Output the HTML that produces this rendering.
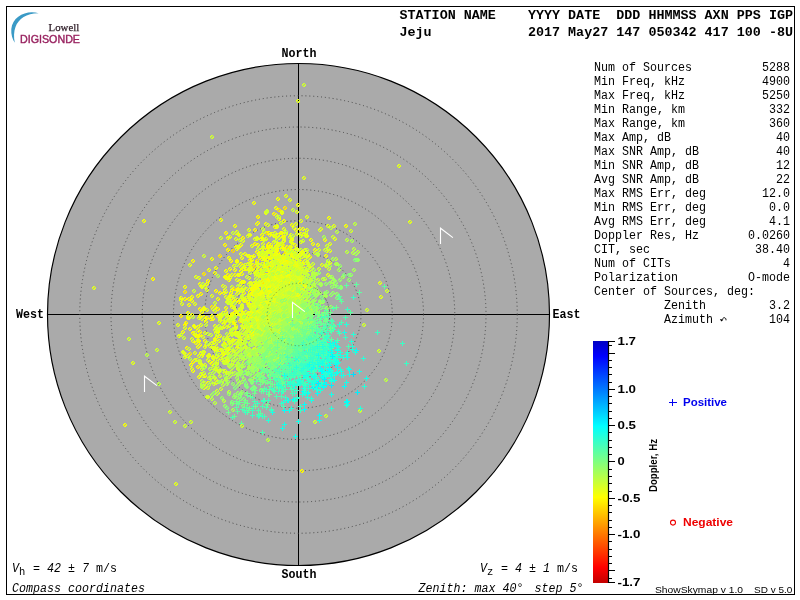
<!DOCTYPE html>
<html><head><meta charset="utf-8"><title>Skymap</title>
<style>
html,body{margin:0;padding:0;background:#fff;}
body{width:800px;height:600px;overflow:hidden;font-family:"Liberation Sans",sans-serif;}
svg{display:block;will-change:transform;}
text{fill:#000;}
.mr{font-family:"Liberation Mono",monospace;}
.mb{font-family:"Liberation Mono",monospace;font-weight:bold;}
.mi{font-family:"Liberation Mono",monospace;font-style:italic;}
.sb{font-family:"Liberation Sans",sans-serif;font-weight:bold;}
.sr{font-family:"Liberation Sans",sans-serif;}
.m{fill:none;stroke:none;}
</style></head><body>
<svg width="800" height="600" viewBox="0 0 800 600">
<defs>
<linearGradient id="cb" x1="0" y1="0" x2="0" y2="1"><stop offset="0.0000" stop-color="#0000c3"/><stop offset="0.0621" stop-color="#0000ff"/><stop offset="0.3520" stop-color="#00ffff"/><stop offset="0.6460" stop-color="#ffff00"/><stop offset="0.9358" stop-color="#ff0000"/><stop offset="1.0000" stop-color="#c30000"/></linearGradient>
<marker id="o0" markerWidth="6" markerHeight="6" refX="3" refY="3" markerUnits="userSpaceOnUse"><g fill="#ff9c00" shape-rendering="crispEdges"><path d="M2 1h2v1h-2zM1 2h2v1h-2zM4 2h1v1h-1zM1 3h1v1h-1zM3 3h2v1h-2zM2 4h2v1h-2z"/></g></marker><marker id="o1" markerWidth="6" markerHeight="6" refX="3" refY="3" markerUnits="userSpaceOnUse"><g fill="#ffaf00" shape-rendering="crispEdges"><path d="M2 1h2v1h-2zM1 2h2v1h-2zM4 2h1v1h-1zM1 3h1v1h-1zM3 3h2v1h-2zM2 4h2v1h-2z"/></g></marker><marker id="o2" markerWidth="6" markerHeight="6" refX="3" refY="3" markerUnits="userSpaceOnUse"><g fill="#ffc100" shape-rendering="crispEdges"><path d="M2 1h2v1h-2zM1 2h2v1h-2zM4 2h1v1h-1zM1 3h1v1h-1zM3 3h2v1h-2zM2 4h2v1h-2z"/></g></marker><marker id="o3" markerWidth="6" markerHeight="6" refX="3" refY="3" markerUnits="userSpaceOnUse"><g fill="#ffd400" shape-rendering="crispEdges"><path d="M2 1h2v1h-2zM1 2h2v1h-2zM4 2h1v1h-1zM1 3h1v1h-1zM3 3h2v1h-2zM2 4h2v1h-2z"/></g></marker><marker id="o4" markerWidth="6" markerHeight="6" refX="3" refY="3" markerUnits="userSpaceOnUse"><g fill="#ffe700" shape-rendering="crispEdges"><path d="M2 1h2v1h-2zM1 2h2v1h-2zM4 2h1v1h-1zM1 3h1v1h-1zM3 3h2v1h-2zM2 4h2v1h-2z"/></g></marker><marker id="o5" markerWidth="6" markerHeight="6" refX="3" refY="3" markerUnits="userSpaceOnUse"><g fill="#fffa00" shape-rendering="crispEdges"><path d="M2 1h2v1h-2zM1 2h2v1h-2zM4 2h1v1h-1zM1 3h1v1h-1zM3 3h2v1h-2zM2 4h2v1h-2z"/></g></marker><marker id="o6" markerWidth="6" markerHeight="6" refX="3" refY="3" markerUnits="userSpaceOnUse"><g fill="#f2ff0d" shape-rendering="crispEdges"><path d="M2 1h2v1h-2zM1 2h2v1h-2zM4 2h1v1h-1zM1 3h1v1h-1zM3 3h2v1h-2zM2 4h2v1h-2z"/></g></marker><marker id="o7" markerWidth="6" markerHeight="6" refX="3" refY="3" markerUnits="userSpaceOnUse"><g fill="#e0ff1f" shape-rendering="crispEdges"><path d="M2 1h2v1h-2zM1 2h2v1h-2zM4 2h1v1h-1zM1 3h1v1h-1zM3 3h2v1h-2zM2 4h2v1h-2z"/></g></marker><marker id="o8" markerWidth="6" markerHeight="6" refX="3" refY="3" markerUnits="userSpaceOnUse"><g fill="#cdff32" shape-rendering="crispEdges"><path d="M2 1h2v1h-2zM1 2h2v1h-2zM4 2h1v1h-1zM1 3h1v1h-1zM3 3h2v1h-2zM2 4h2v1h-2z"/></g></marker><marker id="o9" markerWidth="6" markerHeight="6" refX="3" refY="3" markerUnits="userSpaceOnUse"><g fill="#bbff44" shape-rendering="crispEdges"><path d="M2 1h2v1h-2zM1 2h2v1h-2zM4 2h1v1h-1zM1 3h1v1h-1zM3 3h2v1h-2zM2 4h2v1h-2z"/></g></marker><marker id="o10" markerWidth="6" markerHeight="6" refX="3" refY="3" markerUnits="userSpaceOnUse"><g fill="#a8ff57" shape-rendering="crispEdges"><path d="M2 1h2v1h-2zM1 2h2v1h-2zM4 2h1v1h-1zM1 3h1v1h-1zM3 3h2v1h-2zM2 4h2v1h-2z"/></g></marker><marker id="o11" markerWidth="6" markerHeight="6" refX="3" refY="3" markerUnits="userSpaceOnUse"><g fill="#96ff69" shape-rendering="crispEdges"><path d="M2 1h2v1h-2zM1 2h2v1h-2zM4 2h1v1h-1zM1 3h1v1h-1zM3 3h2v1h-2zM2 4h2v1h-2z"/></g></marker><marker id="o12" markerWidth="6" markerHeight="6" refX="3" refY="3" markerUnits="userSpaceOnUse"><g fill="#83ff7c" shape-rendering="crispEdges"><path d="M2 1h2v1h-2zM1 2h2v1h-2zM4 2h1v1h-1zM1 3h1v1h-1zM3 3h2v1h-2zM2 4h2v1h-2z"/></g></marker><marker id="p13" markerWidth="6" markerHeight="6" refX="2.5" refY="2.5" markerUnits="userSpaceOnUse"><path d="M0.5 3H5.5M3 0.5V5.5" stroke="#71ff8e" stroke-width="1" fill="none"/></marker><marker id="p14" markerWidth="6" markerHeight="6" refX="2.5" refY="2.5" markerUnits="userSpaceOnUse"><path d="M0.5 3H5.5M3 0.5V5.5" stroke="#5effa1" stroke-width="1" fill="none"/></marker><marker id="p15" markerWidth="6" markerHeight="6" refX="2.5" refY="2.5" markerUnits="userSpaceOnUse"><path d="M0.5 3H5.5M3 0.5V5.5" stroke="#4cffb3" stroke-width="1" fill="none"/></marker><marker id="p16" markerWidth="6" markerHeight="6" refX="2.5" refY="2.5" markerUnits="userSpaceOnUse"><path d="M0.5 3H5.5M3 0.5V5.5" stroke="#3affc5" stroke-width="1" fill="none"/></marker><marker id="p17" markerWidth="6" markerHeight="6" refX="2.5" refY="2.5" markerUnits="userSpaceOnUse"><path d="M0.5 3H5.5M3 0.5V5.5" stroke="#27ffd8" stroke-width="1" fill="none"/></marker><marker id="p18" markerWidth="6" markerHeight="6" refX="2.5" refY="2.5" markerUnits="userSpaceOnUse"><path d="M0.5 3H5.5M3 0.5V5.5" stroke="#15ffea" stroke-width="1" fill="none"/></marker><marker id="p19" markerWidth="6" markerHeight="6" refX="2.5" refY="2.5" markerUnits="userSpaceOnUse"><path d="M0.5 3H5.5M3 0.5V5.5" stroke="#02fffd" stroke-width="1" fill="none"/></marker><marker id="p20" markerWidth="6" markerHeight="6" refX="2.5" refY="2.5" markerUnits="userSpaceOnUse"><path d="M0.5 3H5.5M3 0.5V5.5" stroke="#00efff" stroke-width="1" fill="none"/></marker><marker id="p21" markerWidth="6" markerHeight="6" refX="2.5" refY="2.5" markerUnits="userSpaceOnUse"><path d="M0.5 3H5.5M3 0.5V5.5" stroke="#00dcff" stroke-width="1" fill="none"/></marker><marker id="p22" markerWidth="6" markerHeight="6" refX="2.5" refY="2.5" markerUnits="userSpaceOnUse"><path d="M0.5 3H5.5M3 0.5V5.5" stroke="#00c9ff" stroke-width="1" fill="none"/></marker><marker id="p23" markerWidth="6" markerHeight="6" refX="2.5" refY="2.5" markerUnits="userSpaceOnUse"><path d="M0.5 3H5.5M3 0.5V5.5" stroke="#00b6ff" stroke-width="1" fill="none"/></marker>
</defs>
<rect x="0" y="0" width="800" height="600" fill="#fff"/>
<rect x="6.5" y="6.5" width="788" height="588" fill="none" stroke="#000" stroke-width="1"/>
<!-- logo -->
<path d="M38.7 13.2 C27 9.5 12.5 16 11.3 29 C10.9 34.5 12.5 39.5 14.8 42.8 C13.6 37 13.8 31.5 15.5 27 C18.5 18.5 27 13 38.7 13.2Z" fill="#3a9ac6"/>
<text x="48.6" y="30.6" font-family="Liberation Serif, serif" font-size="10.8" textLength="30.6" lengthAdjust="spacingAndGlyphs" style="fill:#33222c;stroke:#33222c;stroke-width:0.25">Lowell</text>
<text x="20" y="42.8" class="sr" font-size="10.6" textLength="60" lengthAdjust="spacingAndGlyphs" style="fill:#98215f;stroke:#98215f;stroke-width:0.4">DIGISONDE</text>
<!-- header -->
<text x="399.5" y="19.0" class="mb" font-size="13.3" textLength="56.2" lengthAdjust="spacingAndGlyphs" xml:space="preserve">STATION</text>
<text x="463.7" y="19.0" class="mb" font-size="13.3" textLength="32.1" lengthAdjust="spacingAndGlyphs" xml:space="preserve">NAME</text>
<text x="528.0" y="19.0" class="mb" font-size="13.3" textLength="32.1" lengthAdjust="spacingAndGlyphs" xml:space="preserve">YYYY</text>
<text x="568.1" y="19.0" class="mb" font-size="13.3" textLength="32.1" lengthAdjust="spacingAndGlyphs" xml:space="preserve">DATE</text>
<text x="616.3" y="19.0" class="mb" font-size="13.3" textLength="24.1" lengthAdjust="spacingAndGlyphs" xml:space="preserve">DDD</text>
<text x="648.4" y="19.0" class="mb" font-size="13.3" textLength="48.2" lengthAdjust="spacingAndGlyphs" xml:space="preserve">HHMMSS</text>
<text x="704.6" y="19.0" class="mb" font-size="13.3" textLength="24.1" lengthAdjust="spacingAndGlyphs" xml:space="preserve">AXN</text>
<text x="736.8" y="19.0" class="mb" font-size="13.3" textLength="24.1" lengthAdjust="spacingAndGlyphs" xml:space="preserve">PPS</text>
<text x="768.9" y="19.0" class="mb" font-size="13.3" textLength="24.1" lengthAdjust="spacingAndGlyphs" xml:space="preserve">IGP</text>
<text x="399.5" y="35.5" class="mb" font-size="13.3" textLength="32.1" lengthAdjust="spacingAndGlyphs" xml:space="preserve">Jeju</text>
<text x="528.0" y="35.5" class="mb" font-size="13.3" textLength="32.1" lengthAdjust="spacingAndGlyphs" xml:space="preserve">2017</text>
<text x="568.1" y="35.5" class="mb" font-size="13.3" textLength="40.1" lengthAdjust="spacingAndGlyphs" xml:space="preserve">May27</text>
<text x="616.3" y="35.5" class="mb" font-size="13.3" textLength="24.1" lengthAdjust="spacingAndGlyphs" xml:space="preserve">147</text>
<text x="648.4" y="35.5" class="mb" font-size="13.3" textLength="48.2" lengthAdjust="spacingAndGlyphs" xml:space="preserve">050342</text>
<text x="704.6" y="35.5" class="mb" font-size="13.3" textLength="24.1" lengthAdjust="spacingAndGlyphs" xml:space="preserve">417</text>
<text x="736.8" y="35.5" class="mb" font-size="13.3" textLength="24.1" lengthAdjust="spacingAndGlyphs" xml:space="preserve">100</text>
<text x="768.9" y="35.5" class="mb" font-size="13.3" textLength="24.1" lengthAdjust="spacingAndGlyphs" xml:space="preserve">-8U</text>
<!-- sky disc -->
<circle cx="298.5" cy="314.5" r="251.0" fill="#aaaaaa" stroke="#000" stroke-width="1.15"/>
<path d="M298.5 63.5V565.5M47.5 314.5H549.5" stroke="#000" stroke-width="1" fill="none"/>
<g fill="none" stroke="#484848" stroke-width="1" stroke-dasharray="1 2.9"><circle cx="298.5" cy="314.5" r="31.25"/><circle cx="298.5" cy="314.5" r="62.50"/><circle cx="298.5" cy="314.5" r="93.75"/><circle cx="298.5" cy="314.5" r="125.00"/><circle cx="298.5" cy="314.5" r="156.25"/><circle cx="298.5" cy="314.5" r="187.50"/><circle cx="298.5" cy="314.5" r="218.75"/></g>
<g>
<polyline class="m" points="191,316 250,265" marker-start="url(#o3)" marker-mid="url(#o3)" marker-end="url(#o3)"/>
<polyline class="m" points="279,210 285,208 279,244 204,274 296,255 212,307 258,273" marker-start="url(#o4)" marker-mid="url(#o4)" marker-end="url(#o4)"/>
<polyline class="m" points="220,350 268,270 237,262 278,276 307,255 258,270 269,268 298,253 260,253 255,244 269,244 258,223 290,247 273,267 189,299 279,219 277,247 284,261 257,252 294,255 238,234 281,233 276,273 231,261 272,270 287,251 201,294 287,257 280,273 200,335 258,217 193,362 216,291 262,321" marker-start="url(#o5)" marker-mid="url(#o5)" marker-end="url(#o5)"/>
<polyline class="m" points="236,341 262,307 285,292 261,298 198,327 272,295 232,318 294,278 272,256 227,350 290,260 242,258 269,301 298,205 235,270 325,240 242,307 276,282 267,308 248,322 277,250 276,300 284,276 221,356 266,213 270,270 278,269 289,256 287,265 265,266 231,296 287,247 283,263 270,247 249,323 225,277 196,343 271,302 264,316 271,269 229,258 199,336 244,269 286,258 286,260 237,300 243,327 257,305 277,273 291,262 236,233 194,326 185,287 269,258 329,218 264,321 200,363 264,333 270,310 268,266 262,269 199,318 206,322 275,285 274,287 283,283 251,264 266,285 279,285 233,320 242,274 252,325 188,318 220,336 210,362 300,255 254,293 271,297 284,294 267,270 254,256 238,342 269,233 240,281 277,276 276,208 296,266 195,327 244,293 255,311 237,261 226,312 226,292 289,262 304,234 273,294 270,235 293,276 224,346 291,242 278,283 193,341 318,245 275,251 268,283 258,320 284,221 298,278 241,316 212,259 284,260 273,287 279,293 243,319 285,267 202,312 288,267 261,312 275,227 264,301" marker-start="url(#o6)" marker-mid="url(#o6)" marker-end="url(#o6)"/>
<polyline class="m" points="236,333 284,273 241,319 234,331 266,302 297,303 260,283 289,311 285,281 293,281 282,278 273,275 283,313 262,303 246,327 218,359 272,274 271,277 290,291 256,289 257,331 301,242 201,364 274,311 94,288 278,300 263,332 182,304 283,294 307,217 212,343 192,339 276,282 211,319 269,308 297,269 235,328 279,261 295,269 257,303 271,303 212,296 270,308 240,315 293,289 234,351 287,268 282,245 254,292 233,319 267,303 192,369 244,267 267,293 298,287 236,333 282,283 292,269 282,249 296,276 293,290 327,251 297,258 258,303 279,238 278,295 271,292 288,283 259,282 303,271 284,264 291,268 264,313 263,244 226,297 276,272 270,250 272,275 282,292 281,279 280,284 259,324 288,302 265,291 274,250 265,307 283,294 266,321 238,334 236,239 272,297 287,297 183,352 312,268 213,348 256,304 202,365 247,318 278,267 285,262 278,279 307,275 242,320 287,257 196,336 254,305 266,254 245,301 281,280 272,277 274,283 301,221 245,323 290,253 292,239 281,305 265,263 301,287 202,369 320,230 286,293 285,284 242,297 209,356 262,311 275,261 252,312 268,285 282,284 257,281 275,274 240,300 254,302 196,277 239,235 284,258 267,281 293,262 272,305 283,265 244,334 282,266 250,325 267,260 288,288 321,229 231,317 216,383 280,260 256,304 297,287 275,313 222,360 269,328 248,323 232,275 285,269 246,320 291,286 262,284 243,241 262,297 268,292 305,250 202,356 217,351 234,334 279,281 250,289 299,292 287,271 232,301 234,308 289,291 272,288 283,295 300,271 255,313 207,290 289,266 231,304 274,298 284,237 295,279 204,388 257,239 281,244 199,318 277,273 281,305 270,246 288,250 301,302 290,261 278,277 224,351 247,289 286,300 267,332 290,262 276,273 275,281 216,352 214,343 270,284 282,287 278,308 263,286 272,281 269,252 264,283" marker-start="url(#o7)" marker-mid="url(#o7)" marker-end="url(#o7)"/>
<polyline class="m" points="318,280 218,371 271,303 223,358 220,371 297,310 286,269 290,282 259,302 232,348 299,298 309,265 290,301 258,339 289,298 248,362 260,302 286,296 287,272 269,331 267,289 211,335 262,284 246,334 185,426 270,326 247,277 259,339 288,253 290,315 291,285 285,274 255,323 294,276 243,290 294,310 301,285 270,278 222,383 208,388 232,287 254,304 296,278 284,285 267,309 240,356 275,272 308,259 292,251 270,318 236,355 259,306 294,267 289,253 266,276 275,309 301,279 287,275 248,236 262,330 278,321 273,310 256,298 287,299 258,249 246,347 224,360 252,335 296,273 262,291 258,316 281,303 282,318 285,301 220,321 279,323 262,305 259,272 283,291 279,318 300,280 280,283 285,277 256,324 282,306 225,320 268,327 280,262 284,239 253,310 279,293 250,264 301,255 266,295 297,279 205,383 294,260 292,267 279,280 214,384 299,270 266,308 319,269 306,233 213,368 278,305 181,335 277,287 306,287 256,327 201,286 266,256 266,336 300,279 225,373 294,284 275,294 327,246 299,295 276,246 281,318 228,359 201,367 290,280 282,283 280,300 360,411 258,308 269,315 266,318 286,301 367,310 297,280 279,270 285,285 245,341 295,282 289,310 296,297 279,321 240,334 281,257 289,259 289,305 261,329 291,306 379,351 276,297 253,334 285,305 284,314 274,310 328,263 294,262 296,289 302,299 268,333 229,352 200,361 255,312 280,281 257,337 315,422 258,328 263,301 264,240 188,316 240,240 282,279 298,304 242,305 273,285 270,278 387,291 277,297 232,368 256,325 289,306 219,355 301,282 248,317 282,314 313,264 285,298 333,237 266,318 300,292 289,288 291,277 184,338 269,307 308,263 257,338 288,290 280,305 288,269 272,298 271,253 280,316 170,412 287,306 276,281 285,306" marker-start="url(#o8)" marker-mid="url(#o8)" marker-end="url(#o8)"/>
<polyline class="m" points="291,280 287,272 255,317 292,293 278,321 285,312 294,310 285,306 273,307 302,297 227,334 210,374 285,311 255,329 294,317 292,294 265,328 243,364 272,338 286,294 269,323 291,291 293,320 265,323 229,356 291,322 277,323 300,282 279,330 204,373 277,326 147,355 306,301 293,315 281,334 237,361 277,310 268,340 283,323 283,327 311,278 270,341 255,321 296,286 288,290 285,309 260,344 284,327 249,367 289,312 274,320 288,305 300,274 236,354 289,296 308,306 265,340 290,293 281,308 288,276 283,265 285,318 267,328 297,303 227,353 296,317 297,315 261,347 313,286 328,261 248,349 299,306 274,319 288,309 234,366 251,326 270,309 260,351 294,324 255,344 275,317 279,284 218,276 286,303 247,351 232,323 309,281 249,336 263,328 286,271 288,306 297,257 245,343 296,257 269,310 269,322 278,323 270,323 254,332 318,255 293,299 289,289 280,285 294,308 228,346 250,351 224,363 279,319 315,283 288,311 286,288 331,228 226,379 159,384 280,300 287,308 271,304 245,334 279,293 272,337 276,338 278,328 237,365 353,253 290,280 287,315 235,388 261,316 280,289 279,336 278,324 271,311 266,315 264,344 263,331 249,314 270,334 242,357 202,381 270,340 284,275 355,224 293,313 266,312 297,295 304,295 266,335 354,249 307,297 253,337 281,314 269,341 262,332 301,308" marker-start="url(#o9)" marker-mid="url(#o9)" marker-end="url(#o9)"/>
<polyline class="m" points="258,341 335,284 240,364 300,301 313,275 304,305 260,338 290,334 263,361 297,320 252,351 222,398 326,293 290,301 276,347 289,325 239,374 253,360 300,320 312,312 261,347 287,315 324,237 291,309 303,298 266,314 303,303 279,308 265,356 265,342 330,266 310,301 286,349 288,314 267,318 230,356 280,329 249,362 296,318 318,283 284,340 212,395 311,315 255,349 291,315 267,361 281,324 257,366 294,325 302,317 279,312 289,303 284,325 264,338 291,309 260,359 268,332 274,328 286,311 287,322 291,327 282,324 294,287 280,317 292,293 301,270 314,292 282,328 300,299 264,353 272,348 276,330 241,368 285,312 311,309 256,343 300,308 266,343 275,348 289,302 295,286 291,303 279,302 272,330 287,323 295,283 255,364 264,337 286,330 264,353 275,326 284,302 308,289 308,302 266,333 273,332 287,318 254,359 268,339 286,323 225,376 330,277 310,301 280,294 230,367 278,333 301,264 258,361 288,328 271,332" marker-start="url(#o10)" marker-mid="url(#o10)" marker-end="url(#o10)"/>
<polyline class="m" points="225,406 331,307 284,342 298,310 276,330 303,305 272,360 269,349 246,384 293,340 297,312 299,310 265,362 307,310 279,320 278,356 290,329 269,340 286,337 302,325 313,308 254,363 250,345 292,341 290,326 278,357 284,329 340,266 244,373 301,300 274,344 286,338 303,319 301,310 282,334 325,293 275,365 277,350 292,331 274,362 274,339 282,351 276,337 284,309 319,304 294,312 253,373 292,329 297,339 302,325 292,333 267,341 234,397 314,293 258,358 263,341 327,292 315,300 312,316 238,393 303,325 330,283 301,308 303,315 308,314 263,367 312,323 285,333 291,327 247,374 289,343 285,349 313,301 291,317 286,348 294,322 257,364 288,334 301,340 349,280 288,346 302,305 282,328 241,394 349,280 289,339 307,316 293,338 283,340 277,333 238,368 289,330 304,317 284,337 292,328 293,314 296,311" marker-start="url(#o11)" marker-mid="url(#o11)" marker-end="url(#o11)"/>
<polyline class="m" points="275,356 272,347 281,337 313,322 292,341 293,340 247,363 279,352 291,328 307,329 256,362 288,337 307,329 305,331 286,352 293,347 279,377 295,342 280,359 308,310 303,322 312,326 296,335 261,376 311,336 312,325 266,370 312,331 300,325 295,329 274,357 275,345 240,396 254,387 283,342 296,335 263,380 321,308 295,332 280,355 278,357 296,346 302,323 264,370 294,349 261,363 261,367 303,324 309,310 286,332 302,336 292,338 275,351 288,349 287,347 293,328 275,372 282,362 300,336 294,337 289,328 274,352 286,333 302,326 293,347 278,350 313,334 282,352 300,327 278,345 322,297 272,361 284,356 349,275 312,329 297,338 296,343 295,333 279,367 316,319 273,344" marker-start="url(#o12)" marker-mid="url(#o12)" marker-end="url(#o12)"/>
<polyline class="m" points="330,330 285,373 309,346 275,373 308,322 274,369 300,347 288,358 290,352 293,350 306,337 315,355 307,342 277,363 309,337 239,402 297,320 267,382 286,356 325,316 267,404 309,332 297,347 308,343 297,342 275,357 277,342 306,354 284,353 314,329 280,357 327,314 289,344 297,333 308,337 305,344 284,372 302,331 319,337 288,345 260,384 294,344 291,343 262,371 302,346 298,340 297,352 297,353 326,320 291,340 275,367 302,335 293,355 275,366 298,340 275,366 302,323 317,317 311,332 269,359 307,346 254,393 302,320 290,342 274,367 284,384 307,341 300,345 301,345 333,325" marker-start="url(#p13)" marker-mid="url(#p13)" marker-end="url(#p13)"/>
<polyline class="m" points="289,367 288,371 304,333 293,351 252,389 299,345 287,370 274,376 287,366 277,372 304,358 247,412 296,358 270,379 304,338 304,361 298,355 284,377 287,350 276,380 264,388 307,361 282,356 288,355 308,344 300,345 316,327 293,366 303,333 281,364 287,342 238,404 346,285 294,355 297,385 294,367 281,379 282,365 282,367 305,351 294,356 298,350 316,352 258,414 308,350 298,367 325,321 296,353 264,378 304,340 310,325 306,363 275,377 331,348 301,350 277,356 311,345 300,351 350,312 285,360 247,395 314,342 287,381 313,344 299,363 324,339 296,369 262,369 294,363 274,356 289,337" marker-start="url(#p14)" marker-mid="url(#p14)" marker-end="url(#p14)"/>
<polyline class="m" points="299,373 296,347 319,351 308,356 301,350 319,385 310,345 298,354 317,339 276,396 300,370 258,410 330,347 326,330 318,352 296,362 316,338 290,360 312,351 300,365 323,344 305,345 314,346 311,363 262,432 323,352 276,373 291,364 315,357 298,362 303,352 296,364 309,360 292,393 328,335 266,389 314,347 242,409 285,373 311,348 307,364 322,335 334,326 301,343 266,407 296,372 315,358 285,389 297,352 322,354 290,386 305,363 326,346 293,382 272,389 279,370 279,384 308,349 306,362 296,358 298,350 322,346" marker-start="url(#p15)" marker-mid="url(#p15)" marker-end="url(#p15)"/>
<polyline class="m" points="291,373 299,369 316,356 285,397 309,353 296,390 347,309 303,378 268,400 326,343 309,350 301,360 302,370 320,329 299,366 316,360 286,374 302,363 345,337 278,378 309,339 326,348 292,375 304,369 315,364 273,375 312,343 326,332 257,403 299,357 328,358 312,359 291,367 300,365 305,351 312,362 308,350 314,374 300,410 324,343 305,364 285,384 304,369 289,365 295,359 321,348 304,385 290,383 333,360 330,341" marker-start="url(#p16)" marker-mid="url(#p16)" marker-end="url(#p16)"/>
<polyline class="m" points="343,375 308,388 317,347 330,376 334,356 321,375 346,324 305,393 318,379 318,359 316,389 294,400 327,359 323,356 322,370 310,363 312,366 355,352 324,352 307,374 326,340 346,401 351,341 331,355 297,398 336,342 304,372 322,353 305,376" marker-start="url(#p17)" marker-mid="url(#p17)" marker-end="url(#p17)"/>
<polyline class="m" points="288,400 323,373 272,412 330,363 287,400 349,374 326,374 318,362 311,400 306,377 314,382 282,428 284,424 303,388 323,378 347,404 359,371 289,410 324,371" marker-start="url(#p18)" marker-mid="url(#p18)" marker-end="url(#p18)"/>
<polyline class="m" points="317,393 331,374 304,409 349,369 326,384 315,381 303,391" marker-start="url(#p19)" marker-mid="url(#p19)" marker-end="url(#p19)"/>
<polyline class="m" points="331,385" marker-start="url(#p20)" marker-mid="url(#p20)" marker-end="url(#p20)"/>
<polyline class="m" points="233,251" marker-start="url(#o3)" marker-mid="url(#o3)" marker-end="url(#o3)"/>
<polyline class="m" points="257,261 227,316 268,266 265,275 248,304 190,354 181,316" marker-start="url(#o4)" marker-mid="url(#o4)" marker-end="url(#o4)"/>
<polyline class="m" points="283,237 255,230 228,250 224,327 284,257 228,275 272,276 211,319 265,322 286,277 258,223 240,309 270,272 189,318 255,299 288,280 302,471 232,321 250,260 272,290 269,299 208,281 273,282 255,266 207,318 241,264 278,278 286,253 277,259 267,285 277,249 218,316 266,288 269,283 276,291 278,261 278,253 281,273 200,309 241,310 243,238 262,301 193,333 193,261" marker-start="url(#o5)" marker-mid="url(#o5)" marker-end="url(#o5)"/>
<polyline class="m" points="204,317 253,292 277,284 265,291 263,268 249,329 276,275 280,257 229,280 280,272 239,247 228,238 294,262 218,332 246,324 257,316 272,248 252,260 287,261 254,301 231,293 278,235 275,248 274,294 260,285 281,260 200,345 215,273 251,313 198,296 224,293 262,259 261,239 285,274 250,235 262,249 234,331 209,355 252,266 237,348 226,339 265,255 282,260 198,347 265,310 264,302 268,252 277,246 233,341 273,281 199,377 283,284 250,265 259,283 205,376 251,317 290,277 255,353 277,296 299,284 217,337 278,263 279,281 213,319 225,322 266,224 209,356 213,357 256,274 292,225 299,276 200,284 257,288 255,318 237,249 262,291 263,239 281,274 275,236 273,278 291,281 248,302 205,341 236,247 241,344 276,288 266,312 204,352 263,252 218,299 208,383 252,313 260,258 306,256 271,245 307,271 243,282 279,285 282,213 232,314 260,296 263,279 226,278 303,267 281,299 301,234 257,224 277,227 278,244 244,282 266,270 265,285 300,229 285,296 263,287 265,260 279,264 224,354 203,354 272,266 272,234 284,307 266,326 287,253 270,285 258,245 290,284 295,250 276,215 280,278 227,315 144,221 270,271 283,269 261,273 281,271 201,353" marker-start="url(#o6)" marker-mid="url(#o6)" marker-end="url(#o6)"/>
<polyline class="m" points="223,286 256,276 248,330 247,350 292,290 301,288 279,289 268,304 246,298 273,256 381,297 271,274 223,313 298,250 286,305 260,284 269,280 214,362 286,267 284,302 269,280 232,334 267,290 219,341 287,261 244,337 254,283 285,278 269,307 277,287 298,278 264,259 314,277 290,310 301,270 271,249 268,225 181,300 259,285 205,365 245,301 258,289 295,255 205,347 266,309 276,281 292,291 251,286 330,263 299,275 256,274 277,289 188,356 225,362 295,268 242,308 267,306 244,345 258,291 237,290 267,285 279,283 290,237 296,296 280,302 322,265 295,279 301,272 276,290 263,312 271,263 273,253 290,291 252,305 253,319 273,277 260,314 250,299 265,291 282,258 282,259 263,288 222,328 314,279 266,291 286,284 217,356 410,222 303,264 262,286 236,311 263,276 261,302 295,306 266,280 277,287 240,285 296,295 298,275 326,266 279,245 277,291 199,356 273,293 291,264 285,281 267,299 261,295 273,283 258,264 216,380 256,335 237,294 159,323 259,314 283,299 268,323 267,264 276,258 285,269 297,212 257,302 299,266 249,278 247,315 267,312 302,254 283,280 303,253 229,300 251,294 251,284 256,283 258,291 213,358 270,297 298,272 216,333 265,311 300,277 252,314 273,270 303,288 248,338 291,310 275,278 262,317 249,330 307,230 206,345 275,291 274,280 205,387 289,294 290,281 237,312 306,270 199,278 270,252 283,262 249,235 269,264 233,321 259,316 290,252 316,274 225,344 264,286 285,289 276,296 282,312 215,326 252,332 247,322 277,226 195,353 299,297 278,262 297,254 285,274 261,298 283,296 266,212 252,313 281,296 276,275 288,286 281,277 275,278 276,261 296,270 311,290 255,285" marker-start="url(#o7)" marker-mid="url(#o7)" marker-end="url(#o7)"/>
<polyline class="m" points="279,293 295,276 283,283 287,291 292,299 311,280 286,277 201,374 273,309 351,231 217,391 259,338 273,310 205,367 203,284 264,280 233,233 277,292 289,305 293,283 268,317 274,303 217,335 235,303 285,287 238,369 217,350 235,322 278,319 276,266 250,273 249,336 297,260 285,289 225,363 250,306 289,264 238,343 267,325 254,365 269,318 301,269 233,329 251,339 240,332 290,300 288,275 255,304 252,363 306,263 292,263 284,309 227,363 275,292 291,279 262,335 301,266 256,348 260,339 250,331 307,307 275,303 304,285 267,355 255,303 295,286 268,327 234,343 286,296 303,241 261,319 280,309 270,307 252,328 287,324 273,317 194,291 287,283 295,290 240,366 296,277 296,279 276,284 272,316 258,298 284,297 251,326 272,264 306,236 257,320 281,300 272,304 303,271 269,329 273,294 304,293 277,311 276,314 253,335 291,241 268,316 295,269 267,316 229,366 264,300 256,315 274,276 271,322 268,309 279,298 240,310 275,280 284,320 294,292 274,291 222,351 283,242 274,313 284,313 296,271 304,276 260,275 267,327 280,285 264,274 221,389 277,324 289,279 300,279 273,299 258,316 224,338 304,283 235,317 283,300 273,307 260,292 275,307 296,273 254,324 258,331 274,263 236,335 280,269 301,250 276,305 301,236 284,257 255,350 274,299 267,285 279,266 282,298 299,259 237,366 280,289 227,358 247,332 273,323 280,300 191,422 270,317 255,324 298,272 315,253 231,353 364,325 175,422 302,297 276,322" marker-start="url(#o8)" marker-mid="url(#o8)" marker-end="url(#o8)"/>
<polyline class="m" points="386,380 258,354 292,314 303,270 297,291 306,307 230,343 268,342 295,311 273,323 292,286 287,272 272,327 237,343 267,341 269,326 254,353 286,324 282,301 251,333 215,403 262,336 276,319 249,356 311,294 268,440 313,275 290,311 297,309 306,286 280,336 303,291 219,382 281,296 292,311 298,282 250,358 298,298 272,290 295,317 294,303 244,359 295,290 193,317 326,265 230,302 269,327 289,287 283,301 256,339 285,309 295,265 267,332 231,365 313,285 252,352 231,359 242,349 246,324 317,274 337,232 282,310 296,314 299,277 288,271 255,344 265,316 229,365 285,290 240,337 304,303 286,314 245,352 269,354 300,317 211,382 255,341 258,316 296,318 279,311 258,322 273,344 288,281 291,305 242,366 304,302 293,292 259,344 276,270 263,330 261,340 276,274 280,321 289,287 215,371 307,268 268,322 264,341 251,334 313,273 266,337 275,325 286,293 256,343 285,309 235,373 347,240 266,352 272,313 297,286 272,324 212,399 224,401 296,305 258,317 273,296 262,294 292,296 293,311 252,341 235,355 278,332 240,339 229,377 227,339 286,306 272,340 293,306 280,318 303,302 233,360 306,287 279,335 238,286 268,330 273,331 276,289 260,333 314,284 297,273 290,285 305,290 275,339 256,326 253,330 279,318 261,330 295,313 241,359 226,380" marker-start="url(#o9)" marker-mid="url(#o9)" marker-end="url(#o9)"/>
<polyline class="m" points="302,321 265,355 300,329 332,277 252,369 258,374 302,314 238,381 249,368 299,292 294,304 279,340 297,313 259,349 280,338 275,348 298,306 245,352 301,288 288,313 297,304 272,348 254,367 275,344 273,343 291,322 302,300 267,353 290,302 282,326 283,313 260,362 297,307 239,384 263,323 269,336 303,315 309,289 284,307 246,342 254,371 302,303 279,307 257,351 289,322 275,344 260,348 241,371 262,339 272,338 233,367 273,300 302,302 278,351 309,306 268,344 296,329 260,345 255,341 287,324 248,374 314,285 339,270 318,294 303,302 321,284 264,326 264,337 237,378 277,318 277,328 327,308 269,355 288,318 307,326 278,343 280,309 254,365 268,331 271,345 286,316 285,305 282,313 280,319 343,277 314,304 303,311 275,325 292,316 272,348 285,323 298,315 259,358 292,316 273,347 301,308 261,350 271,346 254,330 267,330 258,360 244,354 284,322 252,379 308,305" marker-start="url(#o10)" marker-mid="url(#o10)" marker-end="url(#o10)"/>
<polyline class="m" points="283,336 275,331 258,359 307,319 288,345 317,308 284,359 299,335 274,359 261,350 250,358 279,336 294,313 265,347 303,315 267,354 302,328 272,344 275,354 297,332 283,337 284,318 289,340 280,328 335,286 297,339 301,284 283,329 284,349 279,331 300,328 280,355 287,336 358,260 302,313 274,342 250,375 260,366 264,354 278,340 317,307 337,294 295,338 269,358 286,349 316,305 286,340 293,337 316,295 314,326 261,358 357,260 254,364 269,376 305,315 309,335 280,329 283,323 286,294 305,308 275,346 265,365 283,336 308,285 253,356 332,287 214,393 310,309 285,341 271,347 296,322 264,350 299,319 287,343 301,300 301,322 288,323 284,311 286,332 265,345 271,349 260,352 302,298 282,329 288,350 298,319 269,357 275,345 252,370 294,342 302,324 298,319 292,340 288,330 274,351 237,398 312,321 300,334 300,338 298,307 284,323 270,335 336,283 287,341 273,358 283,340 293,328 306,323 338,287 287,330 320,301 288,338" marker-start="url(#o11)" marker-mid="url(#o11)" marker-end="url(#o11)"/>
<polyline class="m" points="285,334 307,306 272,371 282,348 288,340 227,408 293,335 274,341 277,347 297,360 246,394 294,344 289,354 287,350 302,337 256,365 312,290 291,328 282,361 280,317 288,345 305,338 292,340 300,320 290,351 305,327 298,319 275,355 293,324 306,320 293,328 275,362 232,402 291,343 276,361 297,349 290,338 296,330 270,366 310,321 263,377 284,316 287,359 341,288 296,317 276,343 290,318 249,363 275,348 326,311 284,350 274,360 331,328 307,330 319,307 290,353 311,324 325,322 292,332 291,337 299,318 311,316 296,334 277,348 301,326 273,352 294,323 264,371 266,382 299,326 301,332 289,342 263,374 290,342 271,355 259,380 294,335 295,336 282,343 275,361 261,390 285,320 304,322 286,351" marker-start="url(#o12)" marker-mid="url(#o12)" marker-end="url(#o12)"/>
<polyline class="m" points="295,354 287,361 275,377 293,356 267,369 299,341 274,353 314,342 292,350 251,380 286,340 310,341 301,345 291,338 283,368 310,344 289,354 293,354 301,347 282,361 284,342 287,346 291,339 310,331 306,331 293,323 322,335 296,347 307,338 263,377 265,382 261,372 292,347 286,351 293,352 301,325 315,323 300,353 287,352 291,353 314,320 299,336 294,338 287,358 313,338 287,322 271,374 277,355 300,309 303,353 292,350 281,362 277,358 319,321 311,322 315,310 245,400 323,327 307,327 306,343 311,335 307,334 279,374 304,331 315,313 290,340 297,352 305,334 270,352 247,403 228,412 234,416 272,367 293,354 312,342 236,403 290,355 325,318 311,316 330,312 307,331 305,325 287,350 270,372 303,348 302,323 299,324" marker-start="url(#p13)" marker-mid="url(#p13)" marker-end="url(#p13)"/>
<polyline class="m" points="292,367 295,359 316,356 237,411 301,358 324,317 301,344 287,364 270,386 260,373 298,355 359,292 278,359 303,351 302,362 327,322 316,354 278,370 279,388 295,350 310,341 303,337 270,381 294,364 312,335 286,368 298,355 256,381 274,384 297,345 295,354 305,349 317,322 293,367 279,373 288,340 323,340 308,350 285,362 298,366 288,349 298,362 316,346 299,351 331,339 294,349 290,354 308,326 305,346 286,364 297,350 300,360 298,359 290,362 318,344 263,391 298,352 331,330 314,349" marker-start="url(#p14)" marker-mid="url(#p14)" marker-end="url(#p14)"/>
<polyline class="m" points="316,346 320,365 278,380 313,339 252,397 303,370 254,401 300,351 296,365 324,328 308,358 314,335 316,351 312,342 301,339 232,417 302,357 332,321 311,350 333,329 312,352 282,381 292,384 319,354 301,353 327,345 312,357 285,389 311,351 300,354 318,354 264,416 275,369 320,330 292,367 300,367 285,378 319,341 294,375 311,361 323,347 311,352 302,359 297,370 341,322 306,349 328,316 306,353 312,346 288,355 310,359 316,344 306,341 348,346 302,353 345,317 309,356" marker-start="url(#p15)" marker-mid="url(#p15)" marker-end="url(#p15)"/>
<polyline class="m" points="305,388 298,379 316,348 311,370 327,336 321,383 289,369 252,415 307,355 303,357 321,370 278,386 297,397 305,363 305,368 289,372 337,355 310,361 318,369 263,401 313,348 272,388 311,372 306,369 302,365 303,382 282,387 262,416 290,381 320,342 322,369 308,367 278,382 308,392 306,353 317,365 294,383 312,358 318,336 253,406 328,364 308,381 313,370 327,338 326,346 311,353 308,349 302,366 314,351 327,349 306,352 293,370 313,382 296,361 300,406 314,362 316,346 320,346 298,368 303,352 245,412" marker-start="url(#p16)" marker-mid="url(#p16)" marker-end="url(#p16)"/>
<polyline class="m" points="364,386 299,383 313,388 305,386 332,372 323,362 308,384 311,398 320,390 314,358 322,371 285,400 317,365 363,358 329,368 308,379 331,355 307,374 322,356 335,360 340,352 281,391 323,346 311,357 312,382 313,369 296,369 327,364 327,357 346,354 352,349 307,397 353,334 268,420 325,351 298,381 294,380 313,377 326,353 323,362 313,381 317,389 338,362" marker-start="url(#p17)" marker-mid="url(#p17)" marker-end="url(#p17)"/>
<polyline class="m" points="327,373 324,360 303,376 347,357 331,381 328,355 334,362 323,386 334,342" marker-start="url(#p18)" marker-mid="url(#p18)" marker-end="url(#p18)"/>
<polyline class="m" points="337,367 321,371 346,402 307,393 293,399 312,384 328,371" marker-start="url(#p19)" marker-mid="url(#p19)" marker-end="url(#p19)"/>
<polyline class="m" points="313,387" marker-start="url(#p20)" marker-mid="url(#p20)" marker-end="url(#p20)"/>
<polyline class="m" points="353,374" marker-start="url(#p21)" marker-mid="url(#p21)" marker-end="url(#p21)"/>
<polyline class="m" points="285,254 185,292 272,274 269,247 267,233 275,268" marker-start="url(#o4)" marker-mid="url(#o4)" marker-end="url(#o4)"/>
<polyline class="m" points="200,332 284,241 222,316 186,323 153,279 224,344 267,249 266,266 199,341 230,296 198,336 185,325 268,247 243,322 250,292 265,265 268,245 267,280 249,325 235,312 265,267 238,289 198,367 282,275 225,245 276,269 274,214" marker-start="url(#o5)" marker-mid="url(#o5)" marker-end="url(#o5)"/>
<polyline class="m" points="284,241 273,257 243,313 258,277 299,263 212,316 249,338 263,289 285,274 209,270 204,308 266,266 255,285 249,313 280,271 251,283 279,258 251,294 299,270 303,229 259,254 247,318 282,275 125,425 265,289 290,273 315,250 279,261 261,307 195,335 245,323 260,304 307,236 346,226 191,365 295,245 279,291 202,287 266,275 284,249 226,308 252,308 258,312 310,257 284,283 256,288 277,281 244,299 226,271 270,300 271,274 313,244 282,233 279,275 288,275 263,278 276,279 230,278 261,301 215,339 326,256 271,272 292,240 291,265 248,317 254,293 215,349 242,282 286,281 253,294 254,288 273,262 229,321 241,271 215,340 292,251 272,262 254,271 269,296 207,284 232,307 242,315 281,246 271,310 278,199 190,329 275,262 284,273 253,314 238,275 283,272 273,274 274,292 291,290 273,256 288,272 258,292 249,296 254,291 189,305 198,330 264,291 273,276 268,289 242,289 216,268 255,308 271,299 292,268 193,371 263,330 273,289 292,293 294,292 205,319 230,269 222,315 239,275 246,269 253,265 280,287 192,297 270,247 262,235 230,297 266,267" marker-start="url(#o6)" marker-mid="url(#o6)" marker-end="url(#o6)"/>
<polyline class="m" points="239,347 265,304 279,304 260,305 293,286 296,271 287,279 277,282 227,338 274,266 263,285 288,301 297,249 280,302 241,308 287,316 273,278 285,279 223,353 285,250 236,328 255,306 295,265 294,228 283,275 299,270 271,285 278,257 220,319 268,278 263,323 271,303 201,325 298,264 226,361 275,258 271,293 307,262 300,286 244,316 271,272 245,326 229,342 214,349 273,264 276,282 271,299 304,292 282,281 222,350 285,269 268,290 301,268 249,230 276,301 263,297 267,315 208,356 248,256 208,397 249,331 231,345 256,306 279,267 269,283 242,306 229,349 286,282 249,295 262,293 244,299 261,309 207,310 285,299 243,314 286,250 291,265 216,369 268,263 281,296 279,296 261,328 230,303 291,267 203,376 205,333 304,178 255,341 252,246 237,335 380,283 263,295 272,299 286,285 277,278 296,290 296,267 309,266 269,290 248,264 305,272 276,237 273,285 275,285 296,224 285,275 260,276 284,268 270,250 256,318 282,244 270,278 273,263 284,284 288,257 284,279 218,327 289,288 215,330 252,300 298,270 253,341 302,257 229,335 245,265 277,255 267,269 287,286 257,267 276,290 268,292 254,291 263,323 272,254 302,279 251,313 257,327 266,307 283,256 297,234 257,275 215,311 289,249 282,303 271,278 232,298 330,244 185,328 255,307 277,286 335,239 239,337 293,266 277,273 273,253 251,269 277,282 186,355 133,363 291,247 268,311 227,302 286,290 275,233 281,306 216,344 237,232 258,315 274,279 294,280 258,293 269,304 234,343 228,299 289,302 334,226 268,320 234,266 205,287 262,313 276,302 330,251 261,300 274,242 274,269 288,284 279,309 215,378 228,361 230,351 302,298 287,260 265,303 277,285 230,237" marker-start="url(#o7)" marker-mid="url(#o7)" marker-end="url(#o7)"/>
<polyline class="m" points="206,325 286,296 255,311 283,271 269,307 219,372 273,308 221,238 301,297 272,283 272,258 300,276 207,397 261,312 293,284 231,372 273,260 257,299 281,309 287,288 264,255 265,332 283,281 258,296 251,316 259,319 277,283 306,292 288,280 251,339 294,314 274,304 275,286 282,307 270,279 277,333 326,416 226,349 277,282 259,301 237,333 272,336 294,275 258,341 285,297 249,349 220,376 319,250 276,284 217,329 237,344 281,302 254,349 300,266 299,301 231,342 242,296 298,287 259,331 281,322 281,223 282,286 286,284 294,260 300,274 277,282 244,322 234,297 251,336 270,275 278,263 281,297 253,322 286,256 253,325 276,315 261,325 258,320 129,339 291,297 267,212 273,249 288,298 258,303 223,345 276,315 289,269 262,300 286,274 258,320 233,351 276,323 271,316 255,329 278,271 274,271 262,252 275,328 280,260 255,294 284,302 245,347 285,281 303,290 272,357 305,256 292,281 285,299 266,321 253,315 215,303 267,211 271,295 246,312 242,330 273,318 245,342 291,296 258,291 204,256 268,336 262,326 275,316 289,284 313,276 273,336 285,290 274,287 301,262 275,287 265,320 228,303 284,287 264,293 272,333 297,251 217,362 266,312 249,284 157,350 260,350 266,322 302,270 299,308 256,340 268,310 276,299 285,312 268,284 254,343 293,303 237,351 278,308 270,304 280,298 287,295 277,315 226,319 275,323 272,302 256,313 303,271 291,279 275,301 280,282 308,309 273,284 283,301 293,288 248,352 293,210 297,285 251,308 277,217 247,324 325,250 285,280 278,306 250,343 272,311 280,312 278,299 296,277 285,291 291,286 246,323 295,299" marker-start="url(#o8)" marker-mid="url(#o8)" marker-end="url(#o8)"/>
<polyline class="m" points="358,252 238,360 241,350 265,328 223,371 281,337 289,313 275,337 278,323 229,373 223,315 267,329 289,297 269,334 287,301 268,310 283,290 281,327 278,303 280,327 281,287 299,309 262,330 280,327 286,310 273,313 208,343 190,359 272,315 336,259 225,347 292,296 284,313 290,312 297,290 289,305 213,373 286,330 301,297 256,338 270,314 298,315 294,312 265,351 292,292 241,345 286,328 260,329 286,259 294,254 262,313 303,306 288,322 268,326 239,367 275,310 288,314 294,278 274,324 258,308 274,309 297,284 281,317 220,370 269,335 296,316 276,298 263,349 290,317 313,275 307,281 273,324 245,322 222,381 293,315 232,348 299,327 286,293 280,312 325,279 235,316 229,392 290,313 260,334 318,254 280,301 290,329 262,319 268,338 287,297 301,326 271,296 279,327 281,283 294,278 261,348 292,315 279,337 286,335 291,306 234,356 290,301 272,334 286,280 264,312 270,325 248,352 275,330 285,307 282,332 251,345 247,338 264,322 291,289 258,346 316,274 294,304 251,354 287,304 301,285 263,304 270,303 274,338 256,352 262,352 286,268 290,309 280,315 253,320 309,283 295,307 283,303 209,385 265,301 268,353 272,306 267,340 251,321 271,322 210,369 303,270 238,374 295,315 297,336 256,341 309,294 293,313 292,252 290,290 292,263 278,317 272,301 267,337 303,312 260,335 289,272 272,315 242,358 263,328 272,340 276,292 202,387 293,308 255,325 272,367" marker-start="url(#o9)" marker-mid="url(#o9)" marker-end="url(#o9)"/>
<polyline class="m" points="257,360 334,280 242,382 267,349 285,323 313,311 293,305 253,352 282,324 279,326 272,347 289,328 283,315 314,294 247,355 254,371 288,320 291,315 268,350 296,317 325,296 251,336 314,301 215,365 270,337 266,342 287,273 257,368 298,309 275,345 238,375 264,338 302,300 238,375 295,337 284,315 282,323 292,337 332,282 238,374 298,301 294,306 292,295 264,351 241,372 274,336 305,292 287,308 262,351 274,321 352,241 284,325 299,318 275,346 276,300 272,349 270,345 278,337 356,254 312,306 285,325 282,347 263,350 285,303 316,296 311,320 281,325 309,323 245,372 289,298 252,367 290,337 296,308 326,296 289,327 278,331 289,319 308,305 295,330 266,318 303,305 257,359 283,326 284,333 302,306 261,333 307,327 295,320 276,317 268,334 230,365 297,337 265,334 296,320 284,344 294,305 282,307 284,334 317,292 255,377 202,386 250,362 270,357 286,303 320,293 297,289 233,410 228,382 262,353 248,359 291,326 270,289 268,329 267,336 261,337 289,326 293,318" marker-start="url(#o10)" marker-mid="url(#o10)" marker-end="url(#o10)"/>
<polyline class="m" points="297,325 235,395 268,347 301,318 307,331 300,291 237,386 300,317 309,312 292,324 235,395 283,336 275,349 318,314 268,366 283,345 288,319 304,311 275,363 279,363 271,341 297,328 319,273 269,345 271,331 281,326 311,300 294,306 289,316 286,321 282,331 303,326 254,358 301,285 281,336 274,346 304,297 252,360 283,346 266,328 306,310 276,327 269,347 295,329 281,331 266,330 267,350 270,346 283,340 261,354 289,347 263,359 279,363 267,354 303,315 301,321 261,379 322,302 298,331 266,348 278,346 283,341 282,349 282,359 277,348 305,305 261,366 298,333 309,330 289,319 274,353 319,304 267,344 256,358 288,341 279,336 285,341 287,334 297,336 318,313 291,334 285,330 267,342 318,311 282,329 331,295 351,275 283,337 279,351 292,324 299,338 252,382 295,327 292,328 286,334" marker-start="url(#o11)" marker-mid="url(#o11)" marker-end="url(#o11)"/>
<polyline class="m" points="276,365 271,363 278,360 283,362 326,320 290,347 289,328 306,332 311,307 273,358 296,343 244,399 278,343 243,406 247,387 300,327 271,361 267,354 265,341 298,347 306,338 269,340 296,341 287,349 298,337 290,342 290,355 283,358 306,307 296,331 281,349 312,296 297,348 282,346 252,389 294,341 285,355 281,355 320,317 287,350 257,375 280,357 305,326 287,357 277,358 274,361 304,328 266,353 246,386 288,339 297,354 280,357 268,362 302,344 305,327 337,298 285,338 303,332 245,372 338,287 276,344 260,376 274,347 310,308 279,352 267,352 312,326 289,350 307,315 262,381 290,348 255,388 276,366 280,356 271,357 302,334 291,332 304,321 265,362 300,331 259,374 290,327 312,307" marker-start="url(#o12)" marker-mid="url(#o12)" marker-end="url(#o12)"/>
<polyline class="m" points="317,314 236,401 338,296 280,358 278,346 290,365 282,352 315,329 287,343 249,408 296,355 297,348 336,307 318,305 284,349 304,336 295,358 285,357 299,337 303,341 283,358 314,304 297,347 293,347 326,328 283,373 312,319 300,349 316,337 269,394 300,348 306,330 270,379 317,325 294,344 312,341 268,394 274,364 298,344 296,342 255,390 294,335 260,384 302,340 281,382 298,339 316,328 298,333 303,345 305,335 308,335 309,328 311,327 268,364 262,371 279,361 289,354 287,348 310,335 299,348 306,343 313,345 301,349 300,343 283,343 297,338 282,371 290,345 312,323 315,322 270,366 295,338 297,349 303,331 301,347 323,323 292,345 303,339 308,355" marker-start="url(#p13)" marker-mid="url(#p13)" marker-end="url(#p13)"/>
<polyline class="m" points="267,372 293,362 284,370 310,354 304,345 314,346 312,338 305,345 315,339 297,375 284,359 297,359 313,347 314,326 307,347 292,352 316,343 294,364 280,374 278,383 284,368 297,347 241,423 274,368 286,361 323,324 340,299 320,323 313,337 320,350 303,352 280,355 326,343 287,357 300,376 286,354 294,353 292,366 283,378 290,370 288,368 306,346 317,339 294,353 302,348 313,356 303,342 310,342 311,355 277,365 304,338 312,346 273,368 303,357 261,391 315,348 316,367 320,345 288,352 384,286 285,377 269,389 307,343 290,353 318,341 283,371 307,340 304,357 309,342 324,327 291,374 313,326 260,413 299,353 294,346 310,339 311,351" marker-start="url(#p14)" marker-mid="url(#p14)" marker-end="url(#p14)"/>
<polyline class="m" points="328,347 281,384 286,354 331,325 325,353 295,375 291,376 291,338 302,354 312,358 326,328 315,346 293,363 332,346 274,391 305,367 290,362 304,354 323,343 317,336 295,370 326,344 316,346 339,333 323,355 311,355 333,308 299,367 304,355 325,326 310,348 312,349 302,357 295,366 259,415 309,343 299,374 280,362 328,324 310,353 290,376 313,371 279,382 308,338 316,354 337,340 311,345 308,339 285,373 307,362 297,384 331,320 298,367 301,357 322,331" marker-start="url(#p15)" marker-mid="url(#p15)" marker-end="url(#p15)"/>
<polyline class="m" points="316,377 324,364 315,344 294,380 298,355 330,361 282,391 313,367 315,349 322,350 325,374 297,357 323,350 302,371 293,375 289,375 287,384 310,380 294,372 272,388 297,355 316,369 317,351 330,344 307,357 322,360 252,410 306,373 313,385 281,403 306,351 298,355 317,340 316,354 310,370 332,352 303,366 324,337 304,374 330,347 291,372 294,373 317,363 314,369 298,375 324,356 263,400 298,372 321,361 335,356" marker-start="url(#p16)" marker-mid="url(#p16)" marker-end="url(#p16)"/>
<polyline class="m" points="352,346 323,354 346,405 293,388 331,370 308,374 337,357 303,382 297,384 331,350 330,379 298,359 327,351 323,360 334,375 326,366 338,347 298,357 326,360 324,373 315,363 337,354 308,365 315,375 326,368 314,363 283,402 331,408 304,359 323,342" marker-start="url(#p17)" marker-mid="url(#p17)" marker-end="url(#p17)"/>
<polyline class="m" points="333,356 304,393 336,361 306,375 336,373 340,355 328,353 346,382 344,332 307,365 334,357 307,366 341,371 337,372 313,377 334,380 329,358 318,364 295,436 333,345 366,378 314,376" marker-start="url(#p18)" marker-mid="url(#p18)" marker-end="url(#p18)"/>
<polyline class="m" points="323,384 356,350 324,382 304,404 344,386 319,415 320,368 329,369 322,377 323,387 335,364 332,379 284,410" marker-start="url(#p19)" marker-mid="url(#p19)" marker-end="url(#p19)"/>
<polyline class="m" points="357,392" marker-start="url(#p20)" marker-mid="url(#p20)" marker-end="url(#p20)"/>
<polyline class="m" points="240,321 283,245 234,289 220,256 288,249 263,282 254,267 288,276" marker-start="url(#o4)" marker-mid="url(#o4)" marker-end="url(#o4)"/>
<polyline class="m" points="187,348 226,233 270,258 281,273 251,316 220,293 287,262 185,299 233,300 284,258 283,248 268,280 276,278 301,262 254,297 200,316 304,262 218,309 289,281 233,322 293,267 253,289 290,279 282,277 239,302" marker-start="url(#o5)" marker-mid="url(#o5)" marker-end="url(#o5)"/>
<polyline class="m" points="228,349 298,295 250,268 249,256 212,364 258,286 277,280 258,286 284,261 298,272 232,290 272,325 240,340 265,289 276,254 284,273 241,245 252,289 250,270 268,281 298,264 192,301 255,312 257,272 238,290 267,302 262,294 181,298 252,327 282,276 244,301 198,340 260,294 252,312 235,226 221,220 291,284 270,270 262,274 225,290 252,332 297,275 293,256 311,240 282,262 254,203 236,326 242,319 285,258 277,304 269,274 302,252 271,271 248,319 276,294 237,314 265,258 234,323 269,292 282,275 188,313 292,255 249,305 204,309 267,286 263,248 283,276 256,285 215,307 252,335 262,293 279,261 301,279 245,254 232,315 263,278 284,263 239,292 276,273 280,281 258,321 270,298 289,279 277,304 279,283 305,286 270,286 271,291 273,300 296,230 275,288 288,276 252,257 239,341 249,304 276,278 300,283 183,332 262,255 192,315 275,301 229,317 283,287 235,275" marker-start="url(#o6)" marker-mid="url(#o6)" marker-end="url(#o6)"/>
<polyline class="m" points="263,296 301,286 276,294 290,287 263,305 195,333 178,325 249,336 241,254 290,263 264,309 262,322 251,309 267,252 304,285 246,312 297,269 285,283 262,271 279,257 263,311 202,319 276,300 284,296 208,360 288,291 255,300 285,273 264,305 286,267 260,321 239,336 249,296 295,254 285,264 280,256 290,321 274,291 226,292 262,281 281,278 256,295 256,326 287,255 279,270 267,313 399,166 286,292 303,290 255,273 241,320 237,333 274,236 203,337 269,284 260,317 246,319 233,334 260,275 241,340 245,330 286,292 234,307 249,270 231,333 282,285 198,340 280,247 273,285 269,331 305,261 302,278 300,299 251,268 266,293 257,318 253,301 213,309 259,255 278,281 308,254 259,266 230,300 286,234 242,307 277,284 269,304 293,296 238,247 214,358 275,312 296,249 273,286 269,299 224,324 220,315 233,319 260,311 264,270 261,320 247,326 195,360 263,327 190,317 203,374 184,353 290,200 299,267 274,294 260,316 279,307 269,306 288,296 222,322 237,280 179,336 249,298 270,315 218,330 303,298 229,326 285,258 278,276 266,282 310,287 283,309 210,346 298,278 256,314 259,323 262,313 294,276 275,271 296,278 277,294 281,261 266,239 197,360 259,255 282,268 250,283 292,292 275,300 292,243 249,306 281,268 257,238 254,302 227,327 289,297 272,272 185,357 301,270 219,371 291,235 262,312 190,265 263,278 297,270 282,212 225,287 262,264 294,278 292,281 225,371 271,311 295,259 289,278 257,271 270,299 284,275 288,309 195,304 216,347 273,296 298,263 302,280 266,277 286,196 275,280 287,280 289,293 281,284 243,290 278,291 288,281 289,291 328,275 295,273 260,328 272,275 229,321 227,373 233,340 243,320 264,303 268,319 262,254 297,258 281,293 284,229 255,239 262,272 218,349 257,263 220,318 230,340 282,291 241,267 256,296 328,226 298,101 291,263 217,364 231,331 176,484 228,353" marker-start="url(#o7)" marker-mid="url(#o7)" marker-end="url(#o7)"/>
<polyline class="m" points="291,285 295,307 266,335 257,370 276,241 284,274 288,270 212,137 284,302 263,272 296,273 227,315 263,229 271,331 280,295 281,284 281,311 289,320 230,322 283,316 272,289 284,302 258,280 283,301 251,337 241,291 270,309 273,312 283,292 248,327 295,255 242,349 267,307 256,279 295,294 279,292 261,320 221,328 284,305 277,322 295,273 289,259 270,317 278,312 262,254 296,303 203,352 304,272 269,334 328,249 303,293 279,297 294,288 274,322 255,314 293,278 288,287 263,247 266,319 278,309 232,319 281,313 285,273 282,286 286,295 284,286 263,310 294,308 222,383 268,321 275,324 291,273 266,307 219,326 293,297 242,426 258,315 279,328 300,263 257,304 237,265 285,299 286,300 199,361 281,307 290,291 257,334 296,314 304,278 281,297 275,325 295,279 229,374 254,338 293,270 301,273 291,266 296,290 271,316 261,315 278,299 255,328 264,232 249,330 249,355 267,310 261,334 224,340 247,332 217,367 283,289 259,333 282,315 253,301 275,262 218,393 209,378 271,335 244,287 241,343 304,85 287,271 288,280 277,303 283,269 262,266 310,270 305,299 257,303 242,326 246,326 262,337 280,292 300,288 288,257 297,270 282,244 232,335 277,262 252,330 287,302 307,274 269,337 286,310 266,306 256,331 299,300 288,319 253,321 263,277 271,274 268,331 233,362 265,338 279,332 279,320 257,333 265,254 211,378 267,299 291,304 279,217 259,317 232,365 270,317 291,259 291,311 305,272 306,283 251,315 306,278 286,232 189,349 274,293 264,330 283,304 281,304 276,283 280,273 239,340 254,310 293,236 270,322 260,323 329,269 208,334 287,293 261,328 258,273 307,250 249,319 284,339 265,333 282,310 253,298 266,309 284,289" marker-start="url(#o8)" marker-mid="url(#o8)" marker-end="url(#o8)"/>
<polyline class="m" points="277,308 255,326 271,299 283,318 323,279 290,315 214,377 279,316 285,311 301,323 292,287 303,313 280,325 282,336 280,328 286,314 256,354 298,272 247,351 289,298 288,251 270,342 271,334 279,324 268,313 260,338 263,328 286,319 302,309 250,356 287,315 264,312 284,306 277,305 302,308 266,338 253,342 267,331 299,303 278,300 307,277 276,319 264,289 291,313 314,285 266,276 217,394 281,306 305,313 258,338 270,349 254,315 286,305 289,293 291,310 297,310 252,341 275,268 256,337 271,269 337,264 236,358 301,286 223,385 262,327 289,306 292,283 280,301 202,384 311,308 289,301 309,299 270,340 282,305 290,302 284,336 293,294 264,304 290,293 298,274 314,274 265,270 308,275 231,330 292,317 271,317 302,299 278,357 293,331 240,353 293,268 243,360 347,252 290,309 299,302 223,385 275,360 282,338 241,349 289,309 314,275 217,354 267,264 275,319 271,308 262,323 273,274 305,280 262,326 234,374 239,370 265,334 249,324 272,324 239,365 304,282 308,300 270,354 243,358 257,344 270,333 297,305 297,285 297,308 274,332 231,375 293,329 292,284 278,273 285,317 299,323 293,300 238,364 292,283 277,333 266,336 276,330 274,314" marker-start="url(#o9)" marker-mid="url(#o9)" marker-end="url(#o9)"/>
<polyline class="m" points="270,334 298,289 244,366 246,357 293,328 311,304 260,332 305,295 304,314 303,298 270,344 283,353 266,328 263,317 249,368 276,327 274,339 274,316 303,304 275,354 204,368 317,290 275,336 270,347 298,291 257,375 257,331 285,348 333,259 258,343 279,340 266,334 286,310 284,322 294,308 295,318 268,331 285,316 272,327 302,292 314,270 314,277 278,342 295,309 294,317 252,345 257,358 296,312 227,384 321,302 280,347 259,351 304,282 254,355 309,285 277,345 241,356 285,322 288,315 305,303 316,288 270,354 323,302 255,360 261,360 305,309 314,279 268,313 259,339 312,283 304,317 308,297 336,264 281,327 286,307 252,330 298,330 295,324 321,285 290,302 269,342 257,362 288,325 240,366 278,317 299,309 283,338 255,369 297,332 261,339 293,352 284,330 304,308 283,308 264,337 253,354 277,337 255,351 297,329 354,270 276,321 284,336 315,291 249,350 283,328 279,315 255,370 269,342 298,301 302,312 244,317 270,350 264,339 283,313 272,320 275,313 293,312 262,350 244,379 247,371 293,315 316,308 304,326 274,347 302,299 276,358 284,331 250,361 295,315" marker-start="url(#o10)" marker-mid="url(#o10)" marker-end="url(#o10)"/>
<polyline class="m" points="268,335 306,304 313,306 340,280 261,362 297,315 273,336 308,334 289,320 289,330 263,374 277,345 301,336 323,314 242,392 292,323 282,301 291,336 297,326 258,374 292,317 281,338 285,349 301,326 312,313 293,340 278,327 311,336 284,316 285,300 268,335 277,348 292,334 250,380 290,334 341,287 289,359 286,332 316,311 270,360 282,344 222,398 288,339 278,343 308,311 292,344 286,328 283,350 299,334 288,327 250,373 287,320 311,322 316,309 289,334 306,325 296,327 220,382 277,335 286,346 282,341 293,315 288,344 284,344 333,293 305,312 304,311 290,342 291,340 288,320 335,281 282,363 307,323 229,394 302,314 283,358 269,338 259,358 296,325 269,356 283,338 288,328 273,356 301,316 293,320 281,354 297,337 294,332 299,327 274,338 280,344 303,306 271,349 258,361 294,314 278,345 265,361 263,365 280,348 326,284 233,384 242,376 307,325 297,323 303,305" marker-start="url(#o11)" marker-mid="url(#o11)" marker-end="url(#o11)"/>
<polyline class="m" points="263,355 272,367 288,353 256,370 355,260 270,359 263,382 289,353 290,341 311,317 298,335 271,349 314,308 282,351 289,341 288,355 286,360 283,358 262,378 269,349 285,334 292,351 274,365 297,335 344,275 252,383 291,343 280,341 296,326 323,301 275,349 280,378 324,307 290,352 263,363 278,361 293,348 282,344 273,367 306,321 270,371 287,336 304,345 338,287 300,329 304,341 292,333 271,346 298,317 245,382 259,367 304,326 284,347 298,324 275,348 290,341 293,340 272,368 232,404 302,330 276,356 281,340 307,310 235,388 270,366 301,337 274,352 271,373 314,326 260,347 267,359 281,357 282,333 271,358 283,356 275,357 263,360 264,356 326,311 275,334 310,333 291,346 306,328 290,331 313,331 241,399 283,351 286,339 309,336 296,332" marker-start="url(#o12)" marker-mid="url(#o12)" marker-end="url(#o12)"/>
<polyline class="m" points="312,328 307,337 255,406 308,343 302,340 317,335 321,323 300,359 297,335 307,349 277,347 306,355 319,345 270,383 275,363 294,347 318,330 294,350 302,329 277,373 305,337 320,329 289,346 292,324 304,340 250,396 266,371 264,371 305,342 264,370 264,359 294,355 300,338 280,370 309,320 270,365 305,337 300,342 271,373 276,374 287,364 290,346 290,359 286,350 307,326 303,333 315,339 309,342 324,313 297,363 311,334 247,393 320,319 277,342 306,344 306,330 287,352 307,343 256,377 306,343 325,320 288,357 289,340 287,346 295,341 295,338 321,314 289,356 271,371 273,376 307,356 282,355 300,337 282,383 301,345 305,342 272,384 297,356 304,344 288,359 244,402 294,352" marker-start="url(#p13)" marker-mid="url(#p13)" marker-end="url(#p13)"/>
<polyline class="m" points="314,358 285,364 313,337 315,344 297,352 324,329 316,329 297,352 273,375 310,362 326,310 276,387 291,361 236,407 320,349 356,284 269,376 323,335 310,337 303,348 312,348 301,357 327,324 282,368 318,329 339,296 278,379 283,379 277,373 296,350 248,410 311,348 309,347 310,340 312,328 296,355 316,339 314,353 317,331 313,338 341,301 294,348 293,353 246,407 312,333 319,330 293,358 288,372 305,346 316,352 282,338 296,354 300,356 316,334 287,360 325,329 284,367 309,337" marker-start="url(#p14)" marker-mid="url(#p14)" marker-end="url(#p14)"/>
<polyline class="m" points="303,342 303,361 323,352 297,367 324,316 324,353 288,377 302,344 299,356 271,409 318,348 281,388 298,372 278,383 283,391 316,348 316,357 244,410 279,371 308,359 273,390 322,354 305,383 281,396 301,366 303,352 266,391 325,362 316,331 283,406 316,361 323,341 314,353 308,354 262,406 302,382 296,363 321,317 325,353 264,400 300,358 299,372 305,367 275,379 287,357 310,357 310,345 304,347 326,353 277,384 311,338 304,359 320,354 308,339 331,331 291,389" marker-start="url(#p15)" marker-mid="url(#p15)" marker-end="url(#p15)"/>
<polyline class="m" points="314,348 292,384 281,386 336,355 285,378 329,353 402,343 321,362 303,371 323,357 301,364 312,352 301,382 319,359 304,367 258,416 319,344 295,358 310,357 377,332 319,348 321,382 294,393 317,367 278,391 289,365 304,390 406,363 314,354 312,365 290,382 329,357 289,383 307,368 313,365 325,349 328,373 320,352 316,355 338,331 321,333 301,364 310,349 294,401 353,297 271,410 310,359 307,378 310,366 308,364 312,347 313,358" marker-start="url(#p16)" marker-mid="url(#p16)" marker-end="url(#p16)"/>
<polyline class="m" points="337,349 303,368 360,408 317,346 315,380 312,362 302,394 321,361 306,376 311,375 278,385 301,370 291,408 299,380 339,324 334,362 340,369 290,384 348,368 307,366 328,360 307,365 330,361 323,353 331,380 311,382 294,385 320,384 319,363 323,351 322,346 329,346 324,365 296,367 343,357 317,360 327,374 321,362 327,356 347,352 300,383" marker-start="url(#p17)" marker-mid="url(#p17)" marker-end="url(#p17)"/>
<polyline class="m" points="313,367 309,364 311,369 330,343 322,369 337,346 337,363 298,421 341,375 324,377 318,355 328,372 331,347 331,394 322,363 337,350 284,375 319,420" marker-start="url(#p18)" marker-mid="url(#p18)" marker-end="url(#p18)"/>
<polyline class="m" points="331,352 317,386 322,371 329,365 347,401" marker-start="url(#p19)" marker-mid="url(#p19)" marker-end="url(#p19)"/>
<polyline class="m" points="324,379 332,356 318,383" marker-start="url(#p20)" marker-mid="url(#p20)" marker-end="url(#p20)"/>
</g>
<circle cx="298.5" cy="314.5" r="31.25" fill="none" stroke="#3a3a3a" stroke-opacity="0.55" stroke-width="1" stroke-dasharray="1 2.7"/>
<g fill="none" stroke="#fff" stroke-width="1.1">
<path d="M292.5 318V302.3L304.8 311.6"/>
<path d="M144.5 392V376.2L157 385.6"/>
<path d="M440.5 244V228.2L452.9 237.6"/>
</g>
<!-- compass labels -->
<text x="281.5" y="57.0" class="mb" font-size="13.3" textLength="35.0" lengthAdjust="spacingAndGlyphs" xml:space="preserve">North</text>
<text x="281.5" y="578.0" class="mb" font-size="13.3" textLength="35.0" lengthAdjust="spacingAndGlyphs" xml:space="preserve">South</text>
<text x="16.0" y="318.0" class="mb" font-size="13.3" textLength="28.0" lengthAdjust="spacingAndGlyphs" xml:space="preserve">West</text>
<text x="552.5" y="318.0" class="mb" font-size="13.3" textLength="28.0" lengthAdjust="spacingAndGlyphs" xml:space="preserve">East</text>
<!-- table -->
<text x="594.0" y="71.0" class="mr" font-size="12" textLength="98.0" lengthAdjust="spacingAndGlyphs" xml:space="preserve">Num of Sources</text>
<text x="762.0" y="71.0" class="mr" font-size="12" textLength="28.0" lengthAdjust="spacingAndGlyphs" xml:space="preserve">5288</text>
<text x="594.0" y="85.0" class="mr" font-size="12" textLength="91.0" lengthAdjust="spacingAndGlyphs" xml:space="preserve">Min Freq, kHz</text>
<text x="762.0" y="85.0" class="mr" font-size="12" textLength="28.0" lengthAdjust="spacingAndGlyphs" xml:space="preserve">4900</text>
<text x="594.0" y="99.0" class="mr" font-size="12" textLength="91.0" lengthAdjust="spacingAndGlyphs" xml:space="preserve">Max Freq, kHz</text>
<text x="762.0" y="99.0" class="mr" font-size="12" textLength="28.0" lengthAdjust="spacingAndGlyphs" xml:space="preserve">5250</text>
<text x="594.0" y="113.0" class="mr" font-size="12" textLength="91.0" lengthAdjust="spacingAndGlyphs" xml:space="preserve">Min Range, km</text>
<text x="769.0" y="113.0" class="mr" font-size="12" textLength="21.0" lengthAdjust="spacingAndGlyphs" xml:space="preserve">332</text>
<text x="594.0" y="127.0" class="mr" font-size="12" textLength="91.0" lengthAdjust="spacingAndGlyphs" xml:space="preserve">Max Range, km</text>
<text x="769.0" y="127.0" class="mr" font-size="12" textLength="21.0" lengthAdjust="spacingAndGlyphs" xml:space="preserve">360</text>
<text x="594.0" y="141.0" class="mr" font-size="12" textLength="77.0" lengthAdjust="spacingAndGlyphs" xml:space="preserve">Max Amp, dB</text>
<text x="776.0" y="141.0" class="mr" font-size="12" textLength="14.0" lengthAdjust="spacingAndGlyphs" xml:space="preserve">40</text>
<text x="594.0" y="155.0" class="mr" font-size="12" textLength="105.0" lengthAdjust="spacingAndGlyphs" xml:space="preserve">Max SNR Amp, dB</text>
<text x="776.0" y="155.0" class="mr" font-size="12" textLength="14.0" lengthAdjust="spacingAndGlyphs" xml:space="preserve">40</text>
<text x="594.0" y="169.0" class="mr" font-size="12" textLength="105.0" lengthAdjust="spacingAndGlyphs" xml:space="preserve">Min SNR Amp, dB</text>
<text x="776.0" y="169.0" class="mr" font-size="12" textLength="14.0" lengthAdjust="spacingAndGlyphs" xml:space="preserve">12</text>
<text x="594.0" y="183.0" class="mr" font-size="12" textLength="105.0" lengthAdjust="spacingAndGlyphs" xml:space="preserve">Avg SNR Amp, dB</text>
<text x="776.0" y="183.0" class="mr" font-size="12" textLength="14.0" lengthAdjust="spacingAndGlyphs" xml:space="preserve">22</text>
<text x="594.0" y="197.0" class="mr" font-size="12" textLength="112.0" lengthAdjust="spacingAndGlyphs" xml:space="preserve">Max RMS Err, deg</text>
<text x="762.0" y="197.0" class="mr" font-size="12" textLength="28.0" lengthAdjust="spacingAndGlyphs" xml:space="preserve">12.0</text>
<text x="594.0" y="211.0" class="mr" font-size="12" textLength="112.0" lengthAdjust="spacingAndGlyphs" xml:space="preserve">Min RMS Err, deg</text>
<text x="769.0" y="211.0" class="mr" font-size="12" textLength="21.0" lengthAdjust="spacingAndGlyphs" xml:space="preserve">0.0</text>
<text x="594.0" y="225.0" class="mr" font-size="12" textLength="112.0" lengthAdjust="spacingAndGlyphs" xml:space="preserve">Avg RMS Err, deg</text>
<text x="769.0" y="225.0" class="mr" font-size="12" textLength="21.0" lengthAdjust="spacingAndGlyphs" xml:space="preserve">4.1</text>
<text x="594.0" y="239.0" class="mr" font-size="12" textLength="105.0" lengthAdjust="spacingAndGlyphs" xml:space="preserve">Doppler Res, Hz</text>
<text x="748.0" y="239.0" class="mr" font-size="12" textLength="42.0" lengthAdjust="spacingAndGlyphs" xml:space="preserve">0.0260</text>
<text x="594.0" y="253.0" class="mr" font-size="12" textLength="56.0" lengthAdjust="spacingAndGlyphs" xml:space="preserve">CIT, sec</text>
<text x="755.0" y="253.0" class="mr" font-size="12" textLength="35.0" lengthAdjust="spacingAndGlyphs" xml:space="preserve">38.40</text>
<text x="594.0" y="267.0" class="mr" font-size="12" textLength="77.0" lengthAdjust="spacingAndGlyphs" xml:space="preserve">Num of CITs</text>
<text x="783.0" y="267.0" class="mr" font-size="12" textLength="7.0" lengthAdjust="spacingAndGlyphs" xml:space="preserve">4</text>
<text x="594.0" y="281.0" class="mr" font-size="12" textLength="84.0" lengthAdjust="spacingAndGlyphs" xml:space="preserve">Polarization</text>
<text x="748.0" y="281.0" class="mr" font-size="12" textLength="42.0" lengthAdjust="spacingAndGlyphs" xml:space="preserve">O-mode</text>
<text x="594.0" y="295.0" class="mr" font-size="12" textLength="161.0" lengthAdjust="spacingAndGlyphs" xml:space="preserve">Center of Sources, deg:</text>
<text x="664.0" y="309.0" class="mr" font-size="12" textLength="42.0" lengthAdjust="spacingAndGlyphs" xml:space="preserve">Zenith</text>
<text x="769.0" y="309.0" class="mr" font-size="12" textLength="21.0" lengthAdjust="spacingAndGlyphs" xml:space="preserve">3.2</text>
<text x="664.0" y="323.0" class="mr" font-size="12" textLength="49.0" lengthAdjust="spacingAndGlyphs" xml:space="preserve">Azimuth</text>
<text x="769.0" y="323.0" class="mr" font-size="12" textLength="21.0" lengthAdjust="spacingAndGlyphs" xml:space="preserve">104</text>
<path d="M726 320.3C726.2 317.4 723.4 316.6 722.2 319.6" fill="none" stroke="#000" stroke-width="1"/><path d="M719.9 318.9L723.5 319.7L721.3 321.6Z" fill="#000"/>
<!-- colour bar -->
<rect x="593" y="341" width="15.5" height="242" fill="url(#cb)"/>
<path d="M608.5 341V583" stroke="#000" stroke-width="1.2" fill="none"/>
<path d="M608 461.5h7M608 469.5h4M608 454.5h4M608 476.5h4M608 447.5h4M608 440.5h4M608 483.5h4M608 432.5h4M608 491.5h4M608 425.5h7M608 498.5h7M608 505.5h4M608 418.5h4M608 512.5h4M608 411.5h4M608 520.5h4M608 403.5h4M608 396.5h4M608 527.5h4M608 389.5h7M608 534.5h7M608 541.5h4M608 382.5h4M608 549.5h4M608 374.5h4M608 556.5h4M608 367.5h4M608 360.5h4M608 563.5h4M608 353.5h7M608 570.5h7M608 345.5h4M608 578.5h4M608 341.5h7M608 582.5h7" stroke="#000" stroke-width="1" fill="none"/>
<g class="sb" font-size="11">
<text x="617.5" y="345" textLength="18.5" lengthAdjust="spacingAndGlyphs">1.7</text>
<text x="617.5" y="393" textLength="18.5" lengthAdjust="spacingAndGlyphs">1.0</text>
<text x="617.5" y="429" textLength="18.5" lengthAdjust="spacingAndGlyphs">0.5</text>
<text x="617.5" y="465" textLength="7.2" lengthAdjust="spacingAndGlyphs">0</text>
<text x="617.5" y="502" textLength="23" lengthAdjust="spacingAndGlyphs">-0.5</text>
<text x="617.5" y="538" textLength="23" lengthAdjust="spacingAndGlyphs">-1.0</text>
<text x="617.5" y="586" textLength="23" lengthAdjust="spacingAndGlyphs">-1.7</text>
</g>
<text class="sb" font-size="10" transform="translate(657,492) rotate(-90)" textLength="53" lengthAdjust="spacingAndGlyphs">Doppler, Hz</text>
<path d="M669 402.5h8M672.5 399v7" stroke="#0000ee" stroke-width="1" fill="none"/>
<text class="sb" x="683" y="405.8" font-size="10.2" textLength="44" lengthAdjust="spacingAndGlyphs" style="fill:#0000ee">Positive</text>
<circle cx="673" cy="522.6" r="2.5" fill="none" stroke="#ee0000" stroke-width="1.1"/>
<text class="sb" x="683" y="525.8" font-size="10.2" textLength="50" lengthAdjust="spacingAndGlyphs" style="fill:#ee0000">Negative</text>
<!-- bottom texts -->
<text class="mi" font-size="12" x="12" y="572" xml:space="preserve"><tspan textLength="7" lengthAdjust="spacingAndGlyphs">V</tspan><tspan dy="3.3" font-style="normal" font-size="10.5" textLength="6.3" lengthAdjust="spacingAndGlyphs">h</tspan></text>
<text x="33.0" y="572.0" class="mi" font-size="12" textLength="56.0" lengthAdjust="spacingAndGlyphs" xml:space="preserve">= 42 ± 7</text>
<text x="96.0" y="572.0" class="mr" font-size="12" textLength="21.0" lengthAdjust="spacingAndGlyphs" xml:space="preserve">m/s</text>
<text x="12.0" y="592.0" class="mi" font-size="12" textLength="133.0" lengthAdjust="spacingAndGlyphs" xml:space="preserve">Compass coordinates</text>
<text class="mi" font-size="12" x="480" y="572" xml:space="preserve"><tspan textLength="7" lengthAdjust="spacingAndGlyphs">V</tspan><tspan dy="3.3" font-style="normal" font-size="10.5" textLength="6.3" lengthAdjust="spacingAndGlyphs">z</tspan></text>
<text x="501.0" y="572.0" class="mi" font-size="12" textLength="49.0" lengthAdjust="spacingAndGlyphs" xml:space="preserve">= 4 ± 1</text>
<text x="557.0" y="572.0" class="mr" font-size="12" textLength="21.0" lengthAdjust="spacingAndGlyphs" xml:space="preserve">m/s</text>
<text x="418.5" y="592.0" class="mi" font-size="12" textLength="105.0" lengthAdjust="spacingAndGlyphs" xml:space="preserve">Zenith: max 40°</text>
<text x="534.5" y="592.0" class="mi" font-size="12" textLength="49.0" lengthAdjust="spacingAndGlyphs" xml:space="preserve">step 5°</text>
<text class="sr" x="655" y="593" font-size="9.3" textLength="88" lengthAdjust="spacingAndGlyphs">ShowSkymap v 1.0</text>
<text class="sr" x="754" y="593" font-size="9.3" textLength="38.3" lengthAdjust="spacingAndGlyphs">SD v 5.0</text>
</svg>
</body></html>
